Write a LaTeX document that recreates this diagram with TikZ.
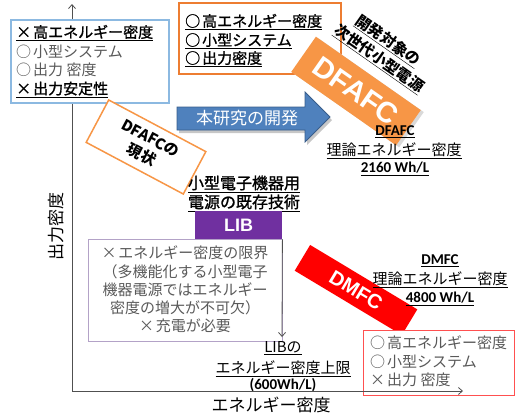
\documentclass[tikz,border=0pt]{standalone}
\usepackage{fontspec}
\newfontfamily\jp{Noto Sans CJK JP}
\newfontfamily\jpm[FakeBold=1.2]{Noto Sans CJK JP}
\newfontfamily\calb{Carlito}
\newfontfamily\arl{Liberation Sans}
\usetikzlibrary{arrows.meta}
\definecolor{bluebd}{RGB}{140,185,225}
\definecolor{orng}{RGB}{237,125,49}
\definecolor{orfill}{RGB}{247,150,70}
\definecolor{arrblue}{RGB}{79,129,189}
\definecolor{arrbd}{RGB}{56,93,138}
\definecolor{purp}{RGB}{112,48,160}
\definecolor{lav}{RGB}{179,162,199}
\definecolor{txtgray}{RGB}{89,89,89}
\definecolor{redbd}{RGB}{255,80,80}
\definecolor{axisc}{RGB}{80,80,80}
\newcommand{\mk}[1]{#1\hspace{2pt}}
\begin{document}
\begin{tikzpicture}[x=1pt,y=-1pt,
  jl/.style={inner sep=0pt, anchor=base west, font=\jp\fontsize{15}{18}\selectfont},
  jlm/.style={inner sep=0pt, anchor=base west, font=\jpm\fontsize{15}{18}\selectfont},
  jc/.style={inner sep=0pt, anchor=base, font=\jp\fontsize{15}{18}\selectfont},
  jb/.style={inner sep=0pt, anchor=base, font=\jpm\fontsize{16}{18}\selectfont},
  cb/.style={inner sep=0pt, anchor=base, font=\calb\bfseries\fontsize{15}{18}\selectfont},
  frame/.style={anchor=north west, inner sep=0pt},
  axisline/.style={draw=axisc, line width=0.8pt, -{Straight Barb[length=4pt,width=7pt]}},
  tilt/.style={rotate=#1, inner sep=0pt}
]
\useasboundingbox (0,0) rectangle (516,416);
% axes
\coordinate (origin) at (72,391);
\coordinate (ytop) at (72,4);
\coordinate (xend) at (463,391);
\draw[axisline] (origin) -- (ytop);
\node[rotate=90, inner sep=0pt, font=\jp\fontsize{17}{17}\selectfont] (ylab) at (56,226) {出力密度};
\node[inner sep=0pt, anchor=base, font=\jp\fontsize{17}{17}\selectfont] (xlab) at (271,411.5) {エネルギー密度};

% top-left blue box
\node[frame, draw=bluebd, line width=1.5pt, fill=white, minimum width=158pt, minimum height=83pt] (bluebox) at (10,19) {};
\node[jlm] (b1) at (16,37.7) {\underline{\mk{×}高エネルギー密度}};
\node[jl, text=txtgray] (b2) at (16,57.7) {\mk{○}小型システム};
\node[jl, text=txtgray] (b3) at (16,75.7) {\mk{○}出力 密度};
\node[jlm] (b4) at (16,94.2) {\underline{\mk{×}出力安定性}};

% top orange box
\node[frame, draw=orng, line width=1.5pt, fill=white, minimum width=162pt, minimum height=71pt] (topbox) at (178,2) {};
\node[jlm] (t1) at (185,26.7) {\underline{\mk{○}高エネルギー密度}};
\node[jlm] (t2) at (185,45.7) {\underline{\mk{○}小型システム}};
\node[jlm] (t3) at (185,63.7) {\underline{\mk{○}出力密度}};

% DFAFC tilted label
\node[tilt=-35, fill=black!15, minimum width=128pt, minimum height=43pt] (dfshadow) at (359,93) {};
\node[tilt=-35, fill=orfill, minimum width=128pt, minimum height=43pt, text=white, font=\arl\bfseries\fontsize{29}{29}\selectfont] (dfafc) at (356,91) {DFAFC};
\node[tilt=-35, font=\jp\bfseries\fontsize{15}{15}\selectfont] (kaihatsu) at (388,41) {\underline{開発対象の}};
\node[tilt=-35, font=\jp\bfseries\fontsize{15}{15}\selectfont] (jisedai) at (379,59) {\underline{次世代小型電源}};

% blue block arrow
\fill[black!22] (179,110) -- (307,110) -- (307,95) -- (332,120) -- (307,145) -- (307,133) -- (179,133) -- cycle;
\draw[arrbd, fill=arrblue, line width=0.8pt] (177,107) -- (305,107) -- (305,92) -- (330,117) -- (305,142) -- (305,130) -- (177,130) -- cycle;
\node[inner sep=0pt, text=white, font=\jp\fontsize{17}{17}\selectfont] (honken) at (247,118) {本研究の開発};

% DFAFC genjo box
\node[rotate=-28, draw=orfill, line width=1.5pt, fill=white, minimum width=110pt, minimum height=48pt, align=center, font=\jp\bfseries\fontsize{15}{19}\selectfont] (genjo) at (146,147) {DFAFCの\\現状};

% DFAFC theory text
\node[cb] (dfa1) at (395,135.8) {\underline{DFAFC}};
\node[jc] (dfa2) at (394,155.7) {\underline{理論エネルギー密度}};
\node[cb] (dfa3) at (395,172.8) {\underline{2160 Wh/L}};

% small device power
\node[jb] (sm1) at (244,189) {\underline{小型電子機器用}};
\node[jb] (sm2) at (244,208) {\underline{電源の既存技術}};

% LIB
\node[frame, fill=purp, minimum width=87pt, minimum height=28pt] (lib) at (195,211) {};
\node[inner sep=0pt, text=white, font=\arl\bfseries\fontsize{18}{18}\selectfont] (libtxt) at (lib.center) {LIB};
\node[frame, draw=lav, line width=1pt, minimum width=194pt, minimum height=102pt] (libbox) at (88,239) {};
\node[jc, text=txtgray] (l1) at (185,258.7) {\mk{×}エネルギー密度の限界};
\node[jc, text=txtgray] (l2) at (185,277.7) {（多機能化する小型電子};
\node[jc, text=txtgray] (l3) at (185,295.7) {機器電源ではエネルギー};
\node[jc, text=txtgray] (l4) at (185,313.7) {密度の増大が不可欠）};
\node[jc, text=txtgray] (l5) at (185,331.7) {\mk{×}充電が必要};
\coordinate (libend) at (282,337);
\draw[axisline] (lib.south east) -- (libend);

% LIB upper limit
\node[jc] (lu1) at (283,352.7) {\underline{LIBの}};
\node[jc] (lu2) at (283,373.7) {\underline{エネルギー密度上限}};
\node[cb] (lu3) at (283,389.5) {(600Wh/L)};

% DMFC
\node[tilt=-31, fill=red, minimum width=125pt, minimum height=30pt, text=white, font=\arl\bfseries\fontsize{20}{20}\selectfont] (dmfc) at (356,290) {DMFC};
\node[cb] (dm1) at (440,264.8) {\underline{DMFC}};
\node[jc] (dm2) at (440,284.7) {\underline{理論エネルギー密度}};
\node[cb] (dm3) at (440,302.8) {\underline{4800 Wh/L}};

% red box
\node[frame, draw=redbd, line width=1pt, fill=white, minimum width=151pt, minimum height=65pt] (redbox) at (363,330) {};
\node[jl, text=txtgray] (r1) at (370,348.7) {\mk{○}高エネルギー密度};
\node[jl, text=txtgray] (r2) at (370,367.7) {\mk{○}小型システム};
\node[jl, text=txtgray] (r3) at (370,385.7) {\mk{×}出力 密度};

\draw[axisline] (origin) -- (xend);
\end{tikzpicture}
\end{document}
